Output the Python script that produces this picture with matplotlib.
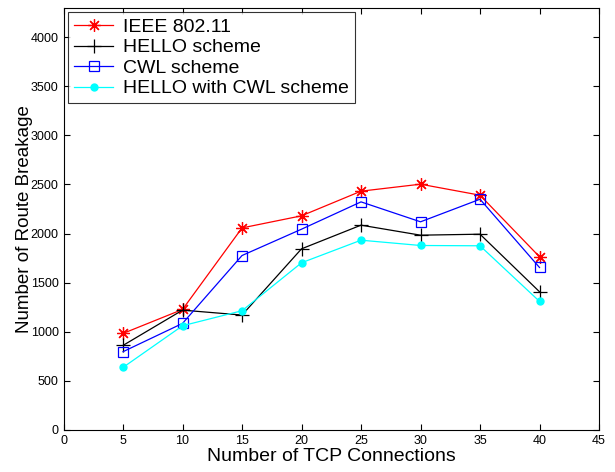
import numpy as np
import matplotlib
matplotlib.use('Agg')
import matplotlib.pyplot as plt

plt.rcParams['font.family'] = ['Liberation Sans', 'DejaVu Sans']

# number of tcp connections
conns = [5, 10, 15, 20, 25, 30, 35, 40]

ieee = [983, 1227, 2057, 2180, 2431, 2502, 2390, 1763]
hello = [861, 1220, 1170, 1844, 2085, 1983, 1993, 1407]
cwl = [797, 1085, 1776, 2044, 2322, 2119, 2349, 1654]
hello_cwl = [637, 1061, 1214, 1702, 1932, 1878, 1875, 1309]

labels = ['IEEE 802.11', 'HELLO scheme', 'CWL scheme', 'HELLO with CWL scheme']

fig = plt.figure(figsize=(6.15, 4.72), dpi=100)
ax = fig.add_axes([0.1033, 0.089, 0.8707, 0.895])

ax.plot(conns, ieee, color='red', lw=0.9, marker=(8, 2, 0), ms=9, mew=0.9, label=labels[0])
ax.plot(conns, hello, color='black', lw=0.9, marker='+', ms=10, mew=0.9, label=labels[1])
ax.plot(conns, cwl, color='blue', lw=0.9, marker='s', ms=7, mfc='none', mew=0.9, label=labels[2])
ax.plot(conns, hello_cwl, color='cyan', lw=0.9, marker='o', ms=5, label=labels[3])

ax.set_xlim(0, 45)
ax.set_ylim(0, 4300)
ax.set_xticks(np.arange(0, 46, 5))
ax.set_yticks(np.arange(0, 4001, 500))
ax.tick_params(direction='in', top=True, right=True, labelsize=9, length=4, width=0.8)
for s in ax.spines.values():
    s.set_linewidth(0.8)

ax.set_xlabel('Number of TCP Connections', fontsize=14, labelpad=1)
ax.set_ylabel('Number of Route Breakage', fontsize=13.5, labelpad=-2)

leg = ax.legend(loc='upper left', fontsize=14, fancybox=False, edgecolor='black',
                borderpad=0.3, labelspacing=0.15, handlelength=2.0, handletextpad=0.5,
                borderaxespad=0.25)
leg.get_frame().set_linewidth(0.8)

fig.savefig('out.png', dpi=100)
